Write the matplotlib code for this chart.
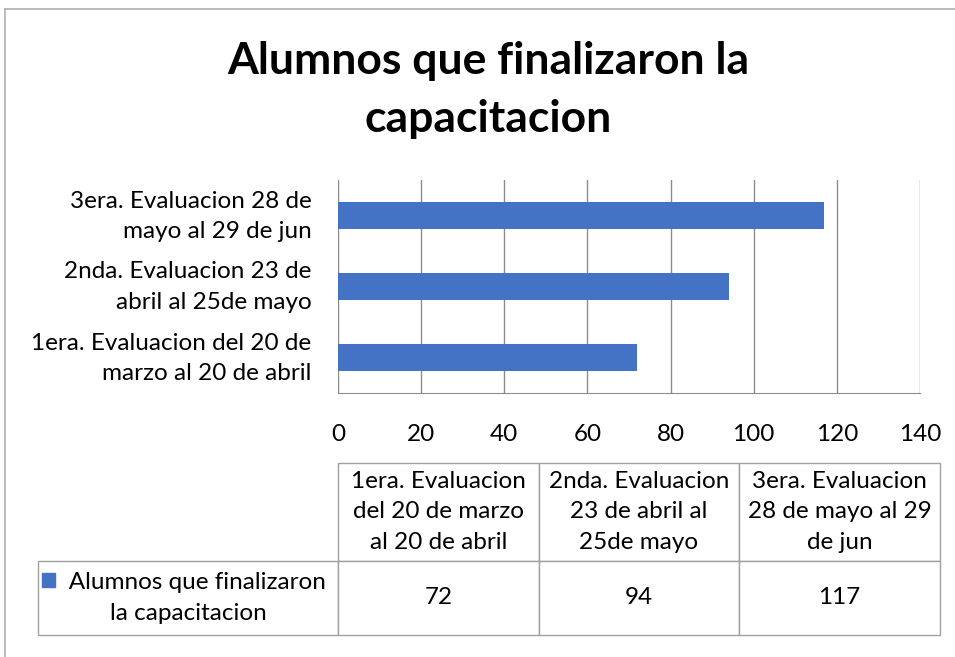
import matplotlib
matplotlib.use("Agg")
import matplotlib.pyplot as plt
import matplotlib.transforms as mtransforms
from matplotlib.patches import Rectangle
from matplotlib.lines import Line2D

plt.rcParams['font.family'] = ['Lato', 'DejaVu Sans']

title = "Alumnos que finalizaron la\ncapacitacion"
series_name = "Alumnos que finalizaron la capacitacion"
axis_labels = ["1era. Evaluacion del 20 de\nmarzo al 20 de abril",
               "2nda. Evaluacion 23 de\nabril al 25de mayo",
               "3era. Evaluacion 28 de\nmayo al 29 de jun"]
table_headers = ["1era. Evaluacion\ndel 20 de marzo\nal 20 de abril",
                 "2nda. Evaluacion\n23 de abril al\n25de mayo",
                 "3era. Evaluacion\n28 de mayo al 29\nde jun"]
row_label = "Alumnos que finalizaron\nla capacitacion"
values = [72, 94, 117]
x_ticks = [0, 20, 40, 60, 80, 100, 120, 140]

W, H = 955, 657
fig = plt.figure(figsize=(W / 100, H / 100), dpi=100)
fig.patch.set_facecolor('white')

def fx(px): return px / W
def fy(py): return 1 - py / H

# outer border (top and left visible)
fig.add_artist(Line2D([fx(5), fx(5)], [fy(9), 0], color='#b0b0b0', lw=1.2))
fig.add_artist(Line2D([fx(5), 1], [fy(9), fy(9)], color='#b0b0b0', lw=1.2))

BLUE = '#4472C4'
GRID = '#8c8c8c'
FS = 17.5

fig.text(fx(488), fy(90), title, ha='center', va='center', fontsize=32,
         fontweight='bold', linespacing=1.55)

ax = fig.add_axes([fx(338), fy(393), fx(920) - fx(338), fy(180) - fy(393)])
ypos = list(range(len(values)))
ax.barh(ypos, values, height=0.39, color=BLUE, zorder=3)
ax.set_xlim(0, 140)
ax.set_ylim(-0.5, len(values) - 0.5)
ax.set_xticks(x_ticks)
ax.set_xticklabels([str(t) for t in x_ticks], fontsize=FS)
ax.set_yticks(ypos)
ax.set_yticklabels(axis_labels, fontsize=FS, linespacing=1.55, ha='right')
ax.tick_params(axis='both', length=0)
ax.tick_params(axis='x', pad=22)
ax.tick_params(axis='y', pad=19)
ax.grid(axis='x', color=GRID, lw=1.0, zorder=0)
for s in ['top', 'right', 'left']:
    ax.spines[s].set_visible(False)
ax.spines['bottom'].set_color(GRID)
shift = mtransforms.ScaledTranslation(0, 6 / 100, fig.dpi_scale_trans)
for lbl in ax.get_yticklabels():
    lbl.set_transform(lbl.get_transform() + shift)

# data table
tax = fig.add_axes([fx(38), fy(635), fx(940) - fx(38), fy(463) - fy(635)])
tax.axis('off')
cell_text = [["", *table_headers], [row_label, *[str(v) for v in values]]]
tbl = tax.table(cellText=cell_text, cellLoc='center',
                colWidths=[300, 201, 200, 201], bbox=[0, 0, 1, 1])
tbl.auto_set_font_size(False)
for (r, c), cell in tbl.get_celld().items():
    cell.set_edgecolor('#a0a0a0')
    cell.set_linewidth(1.0)
    cell.set_height(98 if r == 0 else 74)
    cell.get_text().set_fontsize(FS)
    cell.get_text().set_linespacing(1.55)
    if r == 0 and c == 0:
        cell.visible_edges = ''
tbl.get_celld()[(1, 0)].get_text().set_text("   Alumnos que finalizaron\nla capacitacion")

# legend key in table
key = Rectangle((fx(42), fy(587)), fx(55) - fx(42), fy(573) - fy(587),
                transform=fig.transFigure, color=BLUE)
fig.add_artist(key)

fig.savefig("out.png", dpi=100)
